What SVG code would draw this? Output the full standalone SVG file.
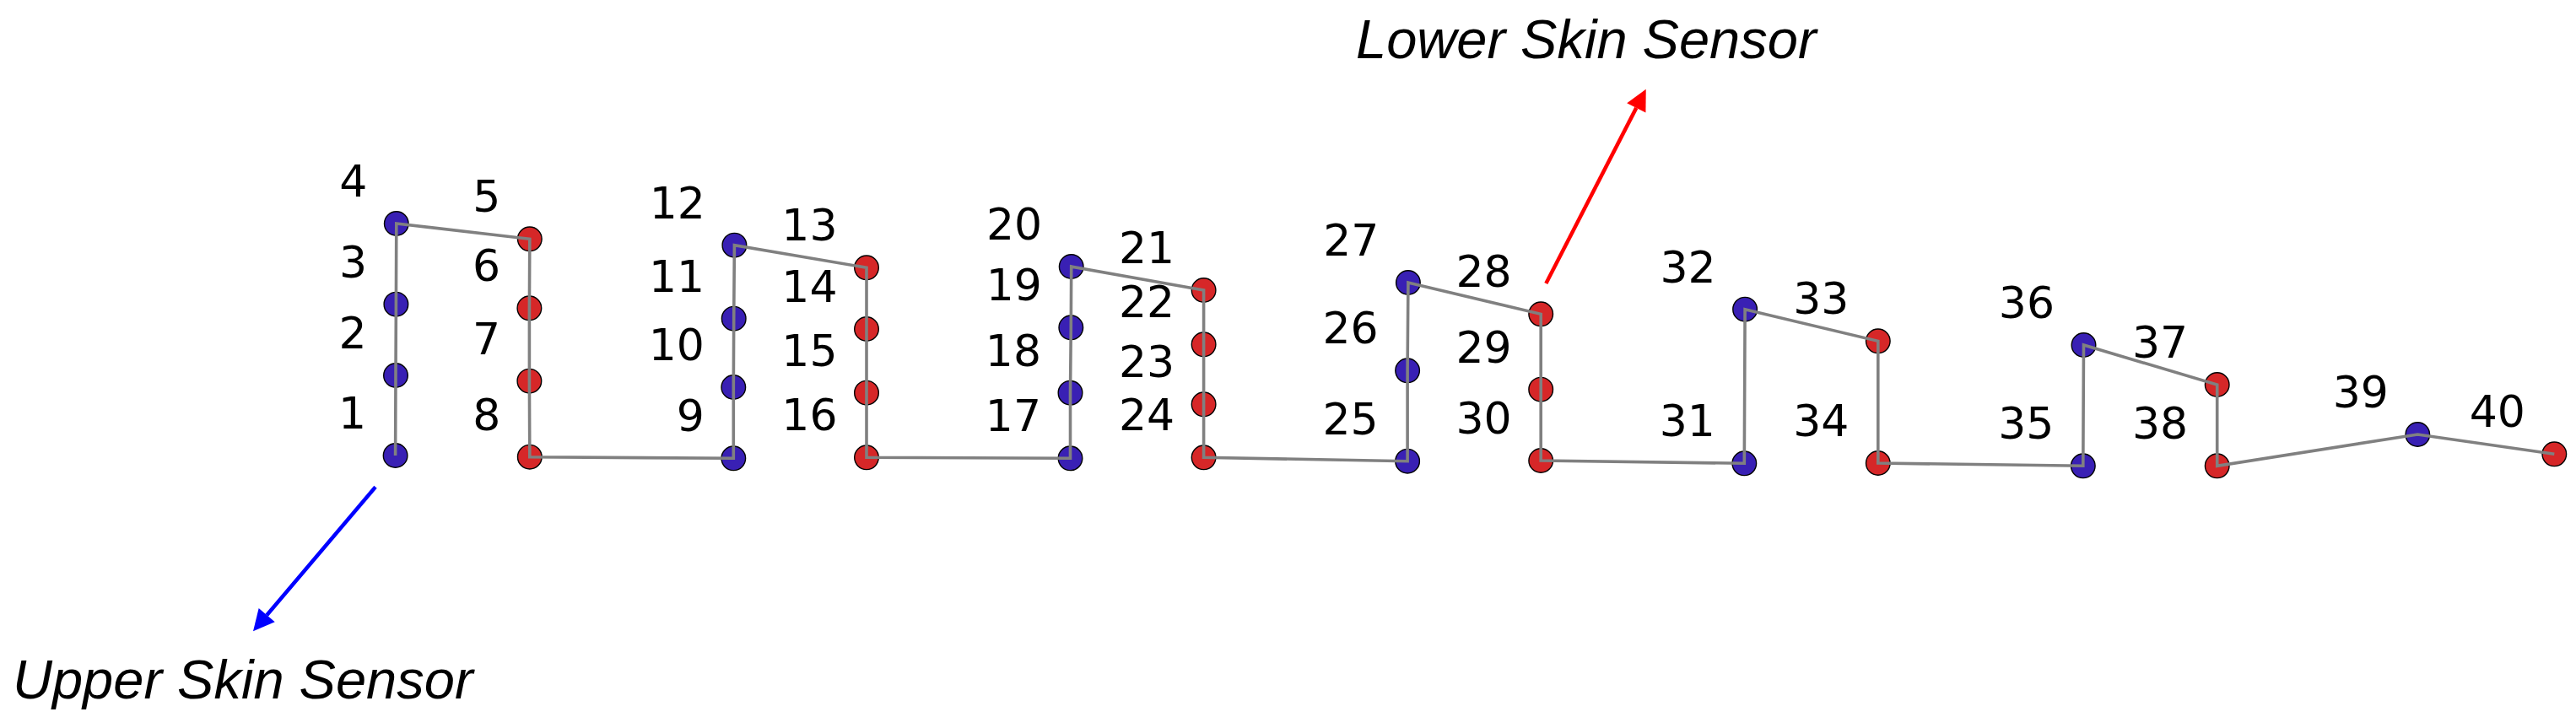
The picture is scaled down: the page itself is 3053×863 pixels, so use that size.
<svg xmlns="http://www.w3.org/2000/svg" width="3053" height="863" viewBox="0 0 3053 863">
<defs>
<style>
.n circle{stroke:#000;stroke-width:1.4}
.b circle{fill:#3920b4}
.r circle{fill:#d62728}
.n text{font-family:"DejaVu Sans",sans-serif;font-size:52px;fill:#000;text-anchor:end}
.wire{fill:none;stroke:#808080;stroke-width:3.6;stroke-linejoin:miter;stroke-linecap:butt}
.cap{font-family:"Liberation Sans",Arial,sans-serif;font-style:italic;font-size:65px;fill:#000}
</style>
<marker id="ab" markerUnits="userSpaceOnUse" markerWidth="26" markerHeight="26" refX="0" refY="12.5" orient="auto" overflow="visible"><path d="M0,0 L25,12.5 L0,25 z" fill="#0000ff"/></marker>
<marker id="ar" markerUnits="userSpaceOnUse" markerWidth="26" markerHeight="26" refX="0" refY="12.5" orient="auto" overflow="visible"><path d="M0,0 L25,12.5 L0,25 z" fill="#ff0000"/></marker>
</defs>
<rect width="3053" height="863" fill="#fff"/>
<g id="nodes">
<g id="n1" class="n b"><circle cx="468.6" cy="540" r="14.3"/><text x="434" y="508">1</text></g>
<g id="n2" class="n b"><circle cx="469" cy="445" r="14.3"/><text x="434.5" y="413">2</text></g>
<g id="n3" class="n b"><circle cx="469.4" cy="360.7" r="14.3"/><text x="435" y="328.7">3</text></g>
<g id="n4" class="n b"><circle cx="469.8" cy="265" r="14.3"/><text x="435.3" y="233">4</text></g>
<g id="n5" class="n r"><circle cx="627.8" cy="283.3" r="14.3"/><text x="593.3" y="251.3">5</text></g>
<g id="n6" class="n r"><circle cx="627.4" cy="365.3" r="14.3"/><text x="593" y="333.3">6</text></g>
<g id="n7" class="n r"><circle cx="627.4" cy="451.7" r="14.3"/><text x="593" y="419.7">7</text></g>
<g id="n8" class="n r"><circle cx="627.8" cy="541.7" r="14.3"/><text x="593.3" y="509.7">8</text></g>
<g id="n9" class="n b"><circle cx="869.3" cy="543.3" r="14.3"/><text x="834.8" y="511.3">9</text></g>
<g id="n10" class="n b"><circle cx="869.3" cy="459" r="14.3"/><text x="834.8" y="427">10</text></g>
<g id="n11" class="n b"><circle cx="869.7" cy="377.7" r="14.3"/><text x="835.2" y="345.7">11</text></g>
<g id="n12" class="n b"><circle cx="870.4" cy="290.7" r="14.3"/><text x="835.9" y="258.7">12</text></g>
<g id="n13" class="n r"><circle cx="1027" cy="317.3" r="14.3"/><text x="992.5" y="285.3">13</text></g>
<g id="n14" class="n r"><circle cx="1027" cy="390" r="14.3"/><text x="992.5" y="358">14</text></g>
<g id="n15" class="n r"><circle cx="1027" cy="465.7" r="14.3"/><text x="992.5" y="433.7">15</text></g>
<g id="n16" class="n r"><circle cx="1027" cy="542.3" r="14.3"/><text x="992.5" y="510.3">16</text></g>
<g id="n17" class="n b"><circle cx="1268.5" cy="543.3" r="14.3"/><text x="1234" y="511.3">17</text></g>
<g id="n18" class="n b"><circle cx="1268.5" cy="465.7" r="14.3"/><text x="1234" y="433.7">18</text></g>
<g id="n19" class="n b"><circle cx="1269.3" cy="388.3" r="14.3"/><text x="1234.8" y="356.3">19</text></g>
<g id="n20" class="n b"><circle cx="1269.7" cy="316" r="14.3"/><text x="1235.2" y="284">20</text></g>
<g id="n21" class="n r"><circle cx="1426.6" cy="344" r="14.3"/><text x="1392.1" y="312">21</text></g>
<g id="n22" class="n r"><circle cx="1426.6" cy="408.3" r="14.3"/><text x="1392.1" y="376.3">22</text></g>
<g id="n23" class="n r"><circle cx="1426.6" cy="479.3" r="14.3"/><text x="1392.1" y="447.3">23</text></g>
<g id="n24" class="n r"><circle cx="1426.6" cy="542.3" r="14.3"/><text x="1392.1" y="510.3">24</text></g>
<g id="n25" class="n b"><circle cx="1668.1" cy="546.7" r="14.3"/><text x="1633.6" y="514.7">25</text></g>
<g id="n26" class="n b"><circle cx="1668.1" cy="439.3" r="14.3"/><text x="1633.6" y="407.3">26</text></g>
<g id="n27" class="n b"><circle cx="1668.9" cy="335" r="14.3"/><text x="1634.4" y="303">27</text></g>
<g id="n28" class="n r"><circle cx="1826.2" cy="372.3" r="14.3"/><text x="1791.7" y="340.3">28</text></g>
<g id="n29" class="n r"><circle cx="1826.2" cy="461.7" r="14.3"/><text x="1791.7" y="429.7">29</text></g>
<g id="n30" class="n r"><circle cx="1826.2" cy="546" r="14.3"/><text x="1791.7" y="514">30</text></g>
<g id="n31" class="n b"><circle cx="2067.3" cy="549.3" r="14.3"/><text x="2032.8" y="517.3">31</text></g>
<g id="n32" class="n b"><circle cx="2068.1" cy="366.7" r="14.3"/><text x="2033.6" y="334.7">32</text></g>
<g id="n33" class="n r"><circle cx="2225.8" cy="404.3" r="14.3"/><text x="2191.3" y="372.3">33</text></g>
<g id="n34" class="n r"><circle cx="2225.8" cy="549" r="14.3"/><text x="2191.3" y="517">34</text></g>
<g id="n35" class="n b"><circle cx="2468.8" cy="552.3" r="14.3"/><text x="2434.3" y="520.3">35</text></g>
<g id="n36" class="n b"><circle cx="2469.5" cy="409" r="14.3"/><text x="2435" y="377">36</text></g>
<g id="n37" class="n r"><circle cx="2627.7" cy="456" r="14.3"/><text x="2593.2" y="424">37</text></g>
<g id="n38" class="n r"><circle cx="2627.7" cy="552.3" r="14.3"/><text x="2593.2" y="520.3">38</text></g>
<g id="n39" class="n b"><circle cx="2865.3" cy="515" r="14.3"/><text x="2830.8" y="483">39</text></g>
<g id="n40" class="n r"><circle cx="3027.3" cy="538.3" r="14.3"/><text x="2992.8" y="506.3">40</text></g>
</g>
<g id="connectors">
<polyline class="wire" points="468.6,540 469,445 469.4,360.7 469.8,265 627.8,283.3 627.4,365.3 627.4,451.7 627.8,541.7 869.3,543.3 869.3,459 869.7,377.7 870.4,290.7 1027,317.3 1027,390 1027,465.7 1027,542.3 1268.5,543.3 1268.5,465.7 1269.3,388.3 1269.7,316 1426.6,344 1426.6,408.3 1426.6,479.3 1426.6,542.3 1668.1,546.7 1668.1,439.3 1668.9,335 1826.2,372.3 1826.2,461.7 1826.2,546 2067.3,549.3 2068.1,366.7 2225.8,404.3 2225.8,549 2468.8,552.3 2469.5,409 2627.7,456 2627.7,552.3 2865.3,515 3027.3,538.3"/>
<line id="arrow-upper" x1="445" y1="577.3" x2="316.2" y2="729.2" stroke="#0000ff" stroke-width="4.5" marker-end="url(#ab)"/>
<line id="arrow-lower" x1="1832.3" y1="336" x2="1939.3" y2="127.9" stroke="#ff0000" stroke-width="4.5" marker-end="url(#ar)"/>
</g>
<g id="captions">
<text class="cap" x="15" y="828">Upper Skin Sensor</text>
<text class="cap" x="1607" y="69">Lower Skin Sensor</text>
</g>
</svg>
